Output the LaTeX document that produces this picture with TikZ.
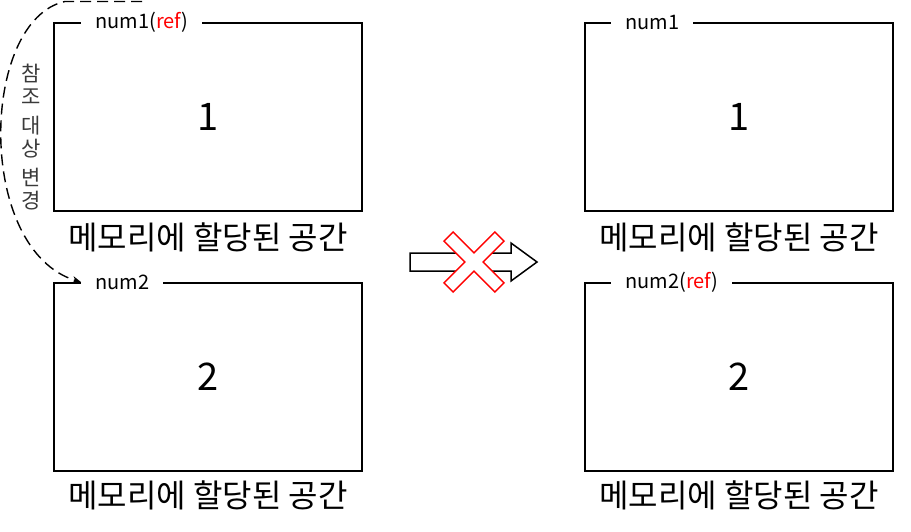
\documentclass[tikz,border=0pt]{standalone}
\usepackage{fontspec}
\setmainfont{Noto Sans CJK KR}
\usetikzlibrary{positioning,arrows.meta}
\definecolor{rojo}{HTML}{FF0000}
\definecolor{gris}{HTML}{3A3A3A}

\begin{document}
\begin{tikzpicture}[x=1pt, y=-1pt, >={Stealth[length=9pt,width=7pt]},
      caja/.style={draw, line width=1.6pt, inner sep=0pt, minimum width=308pt, minimum height=188pt},
      etiq/.style={fill=white, inner xsep=14pt, inner ysep=1pt, font=\fontsize{20}{20}\selectfont},
      numero/.style={font=\fontsize{38}{38}\selectfont},
      leyenda/.style={font=\fontsize{32}{32}\selectfont}]
    \useasboundingbox (0,0) rectangle (911,531);
    % cajas de memoria
    \node[caja] (b1) at (208,117) {};
    \node[caja] (b2) at (208,377) {};
    \node[caja] (b3) at (739,117) {};
    \node[caja] (b4) at (739,377) {};
    \node[numero] (n1) at (b1.center) {1};
    \node[numero] (n2) at (b2.center) {2};
    \node[numero] (n3) at (b3.center) {1};
    \node[numero] (n4) at (b4.center) {2};
    \node[etiq, right=28pt of b1.north west] (l1) {num1(\textcolor{rojo}{ref})};
    \node[etiq, right=28pt of b2.north west] (l2) {num2};
    \node[etiq, right=27pt of b3.north west] (l3) {num1};
    \node[etiq, right=27pt of b4.north west] (l4) {num2(\textcolor{rojo}{ref})};
    \node[leyenda] (c1) at ([yshift=-26pt]b1.south) {메모리에 할당된 공간};
    \node[leyenda] (c2) at ([yshift=-24pt]b2.south) {메모리에 할당된 공간};
    \node[leyenda] (c3) at ([yshift=-26pt]b3.south) {메모리에 할당된 공간};
    \node[leyenda] (c4) at ([yshift=-24pt]b4.south) {메모리에 할당된 공간};
    % cambio de referencia
    \coordinate (ini) at (142,1.5);
    \draw[->, line width=1.4pt, dash pattern=on 11pt off 6pt]
      (ini) -- (65,1.5) .. controls (-20,20) and (-25,250) .. (l2.west);
    \node[gris, align=center, font=\fontsize{21}{23}\selectfont] (txt) at (31,137)
      {참\\조\\[6pt]대\\상\\[6pt]변\\경};
    % flecha tachada
    \draw[line width=1.5pt, fill=white] (410,253) -- (511,253) -- (511,243) -- (537,262)
      -- (511,281) -- (511,271) -- (410,271) -- cycle;
    \draw[rojo, line width=1.4pt, fill=white, rotate around={45:(474,262)}]
      (474,262) ++(-36,-6.5) -- ++(29.5,0) -- ++(0,-29.5) -- ++(13,0) -- ++(0,29.5)
      -- ++(29.5,0) -- ++(0,13) -- ++(-29.5,0) -- ++(0,29.5) -- ++(-13,0)
      -- ++(0,-29.5) -- ++(-29.5,0) -- cycle;
  \end{tikzpicture}
\end{document}
